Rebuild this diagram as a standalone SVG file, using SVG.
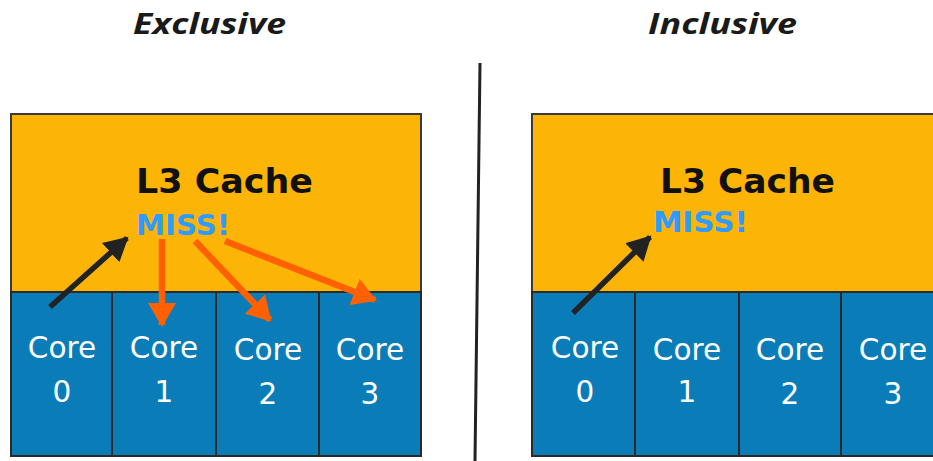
<svg xmlns="http://www.w3.org/2000/svg" width="933" height="461" viewBox="0 0 933 461">
<style>
.title{font-family:"Open Sans","Noto Sans",sans-serif;font-weight:bold;font-style:italic;font-size:28px;fill:#1a1a1a}
.cache{fill:#FCB407;stroke:#3a3a3a;stroke-width:2}
.core{fill:#0A7DB8;stroke:#2a2a2a;stroke-width:2}
.l3{font-family:"DejaVu Sans",Verdana,sans-serif;font-weight:bold;font-size:34px;fill:#111}
.miss{font-family:"DejaVu Sans",Verdana,sans-serif;font-weight:bold;font-size:28px;fill:#2F9BFF}
.ct{font-family:"DejaVu Sans",Verdana,sans-serif;font-size:29.5px;fill:#fff;text-anchor:middle}
.blk{stroke:#222;stroke-width:5.5;fill:none;marker-end:url(#hb)}
.org{stroke:#FF6000;stroke-width:6.5;fill:none;marker-end:url(#ho)}
</style>
<defs>
<marker id="hb" markerUnits="userSpaceOnUse" markerWidth="26" markerHeight="26" refX="22" refY="13" orient="auto">
<path d="M0,0 L24,13 L0,26 Z" fill="#222"/>
</marker>
<marker id="ho" markerUnits="userSpaceOnUse" markerWidth="26" markerHeight="28" refX="22" refY="14" orient="auto">
<path d="M0,0 L24,14 L0,28 Z" fill="#FF6000"/>
</marker>
</defs>
<rect width="933" height="461" fill="#fff"/>
<g id="titles">
<text class="title" x="133" y="34" textLength="153" lengthAdjust="spacingAndGlyphs">Exclusive</text>
<text class="title" x="648" y="34" textLength="149" lengthAdjust="spacingAndGlyphs">Inclusive</text>
</g>
<g id="divider"><line x1="480" y1="63" x2="475" y2="461" stroke="#222" stroke-width="3"/></g>

<g id="excl-l3">
<rect class="cache" x="11" y="114" width="410" height="178"/>
<text class="l3" x="136" y="193" textLength="177" lengthAdjust="spacingAndGlyphs">L3 Cache</text>
<text class="miss" x="136" y="235" textLength="94" lengthAdjust="spacingAndGlyphs">MISS!</text>
</g>
<g id="excl-core0"><rect class="core" x="11" y="292" width="101" height="164"/><text class="ct" x="62" y="358">Core</text><text class="ct" x="62" y="402">0</text></g>
<g id="excl-core1"><rect class="core" x="112" y="292" width="104" height="164"/><text class="ct" x="164" y="358">Core</text><text class="ct" x="164" y="402">1</text></g>
<g id="excl-core2"><rect class="core" x="216" y="292" width="103" height="164"/><text class="ct" x="268" y="360">Core</text><text class="ct" x="268" y="404">2</text></g>
<g id="excl-core3"><rect class="core" x="319" y="292" width="102" height="164"/><text class="ct" x="370" y="360">Core</text><text class="ct" x="370" y="404">3</text></g>

<g id="incl-l3">
<rect class="cache" x="532" y="114" width="413" height="178"/>
<text class="l3" x="660" y="193" textLength="175" lengthAdjust="spacingAndGlyphs">L3 Cache</text>
<text class="miss" x="653" y="232" textLength="95" lengthAdjust="spacingAndGlyphs">MISS!</text>
</g>
<g id="incl-core0"><rect class="core" x="532" y="292" width="103" height="164"/><text class="ct" x="585" y="358">Core</text><text class="ct" x="585" y="402">0</text></g>
<g id="incl-core1"><rect class="core" x="635" y="292" width="104" height="164"/><text class="ct" x="687" y="360">Core</text><text class="ct" x="687" y="402">1</text></g>
<g id="incl-core2"><rect class="core" x="739" y="292" width="102" height="164"/><text class="ct" x="790" y="360">Core</text><text class="ct" x="790" y="404">2</text></g>
<g id="incl-core3"><rect class="core" x="841" y="292" width="104" height="164"/><text class="ct" x="893" y="360">Core</text><text class="ct" x="893" y="404">3</text></g>

<g id="connectors">
<line class="blk" x1="50" y1="307" x2="127" y2="238"/>
<line class="org" x1="162" y1="239" x2="162" y2="325"/>
<line class="org" x1="195" y1="241" x2="270" y2="320"/>
<line class="org" x1="225" y1="241" x2="375" y2="300"/>
<line class="blk" x1="573" y1="313" x2="650" y2="237"/>
</g>
</svg>
